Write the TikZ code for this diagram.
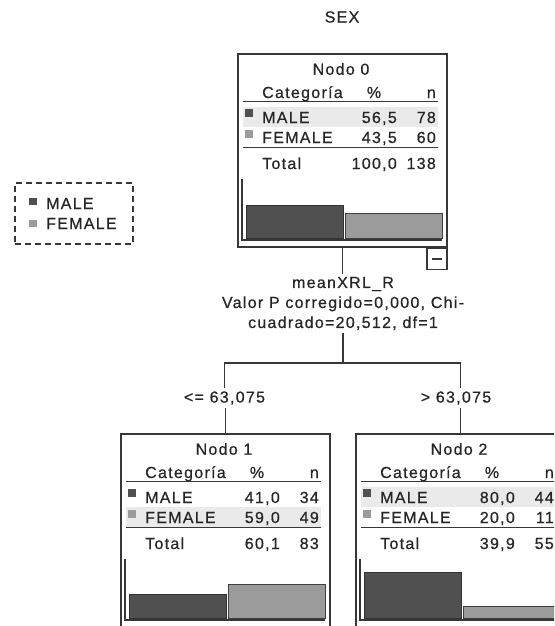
\documentclass[tikz,border=0pt]{standalone}
\usepackage{fontspec}
\setmainfont{Liberation Sans}[LetterSpace=8, FakeBold=0.6]
\usepackage{tikz}
\usetikzlibrary{positioning}
\definecolor{barA}{RGB}{80,80,80}
\definecolor{barB}{RGB}{155,155,155}
\definecolor{rowhl}{RGB}{234,234,234}
\definecolor{frame}{RGB}{55,55,55}

\begin{document}
\begin{tikzpicture}[x=1pt, y=-1pt,
  every node/.style={inner sep=3pt, text=black!85, font=\fontsize{16}{20}\selectfont},
  box/.style={draw=frame, line width=1.6pt, minimum width=209pt, minimum height=193pt,
    anchor=north west, inner sep=0pt},
  cell/.style={inner sep=0pt, anchor=base west},
  num/.style={inner sep=0pt, anchor=base east},
  rule/.style={frame, line width=1.8pt},
  conn/.style={frame, line width=1.4pt},
  barM/.style={fill=barA, draw=black!80, line width=1pt},
  barF/.style={fill=barB, draw=black!75, line width=1pt}]
\useasboundingbox (0,0) rectangle (554,626);
\clip (0,0) rectangle (554,626);

\node (sex) at (342,17) {SEX};

% legend
\node[draw=frame, dash pattern=on 6pt off 4pt, line width=1.5pt,
  minimum width=118pt, minimum height=61pt] (legend) at (74,213.5) {};
\fill[barA] (29,198) rectangle (37,205);
\node[cell] (legM) at (46,209) {MALE};
\fill[barB] (29,220) rectangle (37,227);
\node[cell] (legF) at (46,229) {FEMALE};

% tree nodes: number/left/top/male %/n/female %/n/total %/n/bar heights/highlighted row
\foreach \k/\L/\T/\mp/\mn/\fp/\fn/\tp/\tn/\hm/\hf/\hr in
  {0/237/53/{56,5}/78/{43,5}/60/{100,0}/138/33/25/64,
   1/120/433/{41,0}/34/{59,0}/49/{60,1}/83/24/34/84,
   2/355/433/{80,0}/44/{20,0}/11/{39,9}/55/46/12/64}
{
  \node[box] (nodo\k) at (\L,\T) {};
  \begin{scope}[shift={(\L,\T)}]
    \fill[rowhl] (6,\hr-10) rectangle (201,\hr+10);
    \node (tit\k) at (104,16) {Nodo \k};
    \node[cell] (cat\k) at (25,45) {Categoría};
    \node[cell, anchor=base] (pc\k) at (137,45) {\%};
    \node[num] (nn\k) at (199,45) {n};
    \draw[rule] (6,48.5) -- (201,48.5);
    \fill[barA] (8,56) rectangle (16,64);
    \node[cell] (m\k) at (25,70) {MALE};
    \node[num] (mp\k) at (160,70) {\mp};
    \node[num] (mn\k) at (199,70) {\mn};
    \fill[barB] (8,77) rectangle (16,85);
    \node[cell] (f\k) at (25,90) {FEMALE};
    \node[num] (fp\k) at (160,90) {\fp};
    \node[num] (fn\k) at (199,90) {\fn};
    \draw[rule] (6,94.5) -- (201,94.5);
    \node[cell] (t\k) at (25,116) {Total};
    \node[num] (tp\k) at (160,116) {\tp};
    \node[num] (tn\k) at (199,116) {\tn};
    \draw[conn] (5,126) -- (5,187) -- (205,187);
    \draw[barM] (9,185) rectangle (106,185-\hm);
    \draw[barF] (108,185) rectangle (205,185-\hf);
  \end{scope}
}

\node[draw=frame, line width=1.4pt, minimum width=20pt, minimum height=21pt,
  anchor=north east, inner sep=0pt] (fold) at (nodo0.south east) {};
\draw[conn] ([xshift=-5pt]fold.center) -- ([xshift=5pt]fold.center);

% split
\node[align=center] (split) at (343,303.5)
  {meanXRL\_R\\Valor P corregido=0,000, Chi-\\cuadrado=20,512, df=1};
\coordinate (fork) at (343,363);
\node (lbl1) at (224.5,398) {<= 63,075};
\node (lbl2) at (456,398) {> 63,075};

\draw[conn] (nodo0.south) -- (nodo0.south |- split.north);
\draw[conn] (split.south) -- (fork);
\draw[conn] (lbl1.north) |- (fork) -| (nodo2.north |- lbl2.north);
\draw[conn] (nodo1.north |- lbl1.south) -- (nodo1.north);
\draw[conn] (nodo2.north |- lbl2.south) -- (nodo2.north);
\end{tikzpicture}
\end{document}
